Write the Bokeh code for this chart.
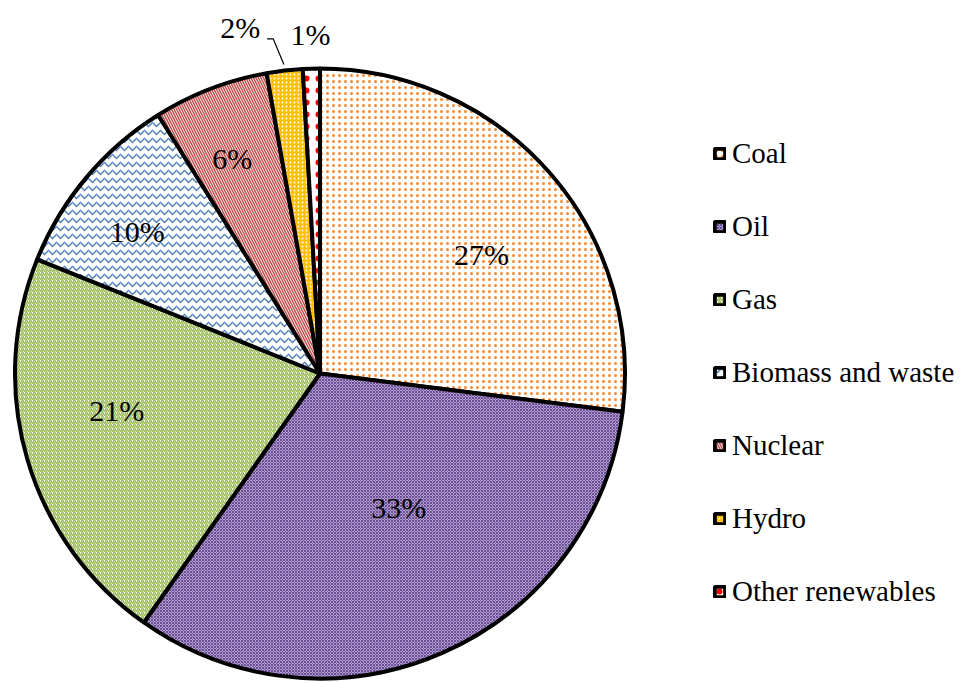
import numpy as np
from bokeh.plotting import figure
from bokeh.models import ColumnDataSource, Legend, LegendItem, Range1d
from bokeh.core.properties import value
from bokeh.embed import file_html
from bokeh.resources import INLINE

# ---- data ----
categories = ["Coal", "Oil", "Gas", "Biomass and waste", "Nuclear", "Hydro", "Other renewables"]
shares = [27.0, 32.8, 21.3, 10.0, 6.1, 1.9, 0.9]
labels = ["27%", "33%", "21%", "10%", "6%", "2%", "1%"]

# ---- styles ----
fill_colors = ["white", "#B09FCB", "white", "white", "white", "#FFC000", "white"]
hatch_colors = ["#F7882F", "#6A4C98", "#9BBB59", "#4F81BD", "#C0504D", "white", "#FF0000"]
hatch_patterns = ["dot", "diagonal_cross", "right_diagonal_line", "horizontal_wave",
                  "left_diagonal_line", "dot", "dot"]
hatch_scales = [6, 3, 4, 8, 5, 4, 12]
hatch_weights = [2, 1, 1.5, 1.5, 1.5, 2, 1]
label_radius = [0.65, 0.52, 0.68, 0.75, 0.75, 1.15, 1.10]
label_shift_deg = [6, -6, 5, -3, -1.5, -6.5, 0]

FONT = "Times"
W, H = 960, 682
R_PX = 305.0
CX_PX, CY_PX = 319.5, 373.0  # pie centre in figure pixels (from top-left)

vals = np.array(shares, dtype=float)
frac = vals / vals.sum()
cum_end = np.cumsum(frac)
cum_start = cum_end - frac
theta_start = cum_start * 2 * np.pi      # clockwise from 12 o'clock
theta_end = cum_end * 2 * np.pi
start_angle = np.pi / 2 - theta_start
end_angle = np.pi / 2 - theta_end
mid = (theta_start + theta_end) / 2

src = ColumnDataSource(dict(
    cat=categories, start=start_angle, end=end_angle,
    fill=fill_colors, hcol=hatch_colors, hpat=hatch_patterns,
    hscale=hatch_scales, hweight=hatch_weights,
))

x0 = -CX_PX / R_PX
x1 = (W - CX_PX) / R_PX
y1 = CY_PX / R_PX
y0 = -(H - CY_PX) / R_PX

p = figure(width=W, height=H, output_backend="svg", toolbar_location=None,
           x_range=Range1d(x0, x1), y_range=Range1d(y0, y1), min_border=0)
p.axis.visible = False
p.grid.visible = False
p.outline_line_color = None
p.background_fill_color = "white"

r = p.wedge(x=0, y=0, radius=1.0, start_angle="start", end_angle="end", direction="clock",
            source=src, fill_color="fill", line_color="black", line_width=4,
            hatch_pattern="hpat", hatch_color="hcol", hatch_scale="hscale",
            hatch_weight="hweight")

# labels
lang = mid + np.deg2rad(label_shift_deg)
lr = np.array(label_radius)
lx = lr * np.sin(lang)
ly = lr * np.cos(lang)
p.text(x=lx, y=ly, text=labels, text_font=value(FONT), text_font_size="30px",
       text_color="black", text_align="center", text_baseline="middle", y_offset=-4)

# leader line for the small "Hydro" slice
hm = mid[5]
a2 = hm - np.deg2rad(1.3)
px = [1.02 * np.sin(hm), 1.108 * np.sin(a2), 1.108 * np.sin(a2) - 0.02]
py = [1.02 * np.cos(hm), 1.108 * np.cos(a2), 1.108 * np.cos(a2)]
p.line(px, py, line_color="black", line_width=1.2)

items = [LegendItem(label=c, renderers=[r], index=i) for i, c in enumerate(categories)]
legend = Legend(items=items, location=(713, 74), orientation="vertical",
                label_text_font=FONT, label_text_font_size="29px", label_text_color="black",
                glyph_width=13, glyph_height=13, label_standoff=6, spacing=40,
                padding=0, margin=0, border_line_color=None, background_fill_alpha=0,
                label_height=20)
p.add_layout(legend, "center")

open("out.html", "w").write(file_html(p, INLINE))
